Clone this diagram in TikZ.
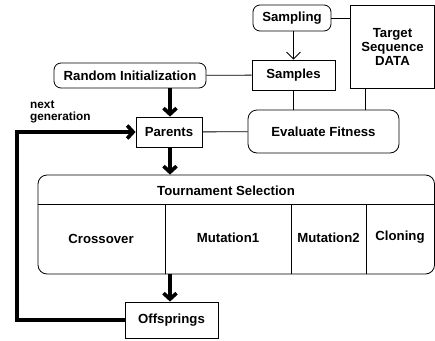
\documentclass[tikz,border=0pt]{standalone}
\usepackage{fontspec}
\setmainfont{Liberation Sans}
\usetikzlibrary{arrows.meta,positioning}

\begin{document}
\begin{tikzpicture}[x=1pt,y=-1pt,
    font=\fontsize{13.2}{14}\selectfont\bfseries,
    box/.style={draw,line width=0.8pt,inner sep=0pt},
    rbox/.style={box,rounded corners=7pt},
    thin arrow/.style={line width=0.8pt,-{Straight Barb[length=7pt,width=14pt]}},
    thick arrow/.style={line width=3.6pt,-{Straight Barb[length=6pt,width=13pt]}},
    link/.style={line width=0.8pt}]
    \useasboundingbox (0,0) rectangle (435,340);
    %% boxes
    \node[rbox,minimum width=78,minimum height=26] (sampling) at (292,18) {Sampling};
    \node[box,minimum width=84,minimum height=83,align=center] (target) at (392.5,46.5)
        {Target\\Sequence\\DATA};
    \node[box,minimum width=83,minimum height=30] (samples) at (293.5,75) {Samples};
    \node[rbox,minimum width=152,minimum height=25] (init) at (130,75.5) {Random Initialization};
    \node[box,minimum width=66,minimum height=30] (parents) at (169,132) {Parents};
    \node[rbox,rounded corners=9pt,minimum width=151,minimum height=43] (fitness) at (323.5,131.5)
        {Evaluate Fitness};
    \node[rbox,rounded corners=9pt,minimum width=396.5,minimum height=99] (tour) at (236.25,224.5) {};
    \node[box,minimum width=93,minimum height=36] (offs) at (171.5,320) {Offsprings};
    \node[align=left,anchor=north west,inner sep=0pt,font=\fontsize{11.8}{11.5}\selectfont\bfseries]
        (nextgen) at (30,101) {next\\generation};
    %% inside the selection box
    \draw[link] (tour.west |- 0,204) -- (tour.east |- 0,204);
    \foreach \xx in {165,291,366}
        \draw[link] (\xx,204) -- (tour.south -| \xx,0);
    \node (sel) at (226,190.5) {Tournament Selection};
    \node (cross) at (101,238.5) {Crossover};
    \node (mut1) at (228,237.5) {Mutation1};
    \node (mut2) at (328.5,237.5) {Mutation2};
    \node (clone) at (400,237.5) {Cloning};
    %% connectors
    \draw[link] (sampling) -- (sampling -| target.west);
    \draw[thin arrow] (sampling.south -| samples.north) -- (samples.north);
    \draw[link] (init) -- (samples);
    \draw[link] (samples) -- (fitness.north -| samples.south);
    \draw[link] (target.south -| 365,0) -- (fitness.north -| 365,0);
    \draw[link] (parents) -- (fitness);
    \draw[thick arrow] (init.south -| 170,0) -- (parents.north -| 170,0);
    \draw[thick arrow] (parents.south -| 170,0) -- (tour.north -| 170,0);
    \draw[thick arrow] (tour.south -| 170,0) -- (offs.north -| 170,0);
    \draw[thick arrow] (offs.west) -- (offs.west -| 17,0) |- (parents.west);
\end{tikzpicture}
\end{document}
